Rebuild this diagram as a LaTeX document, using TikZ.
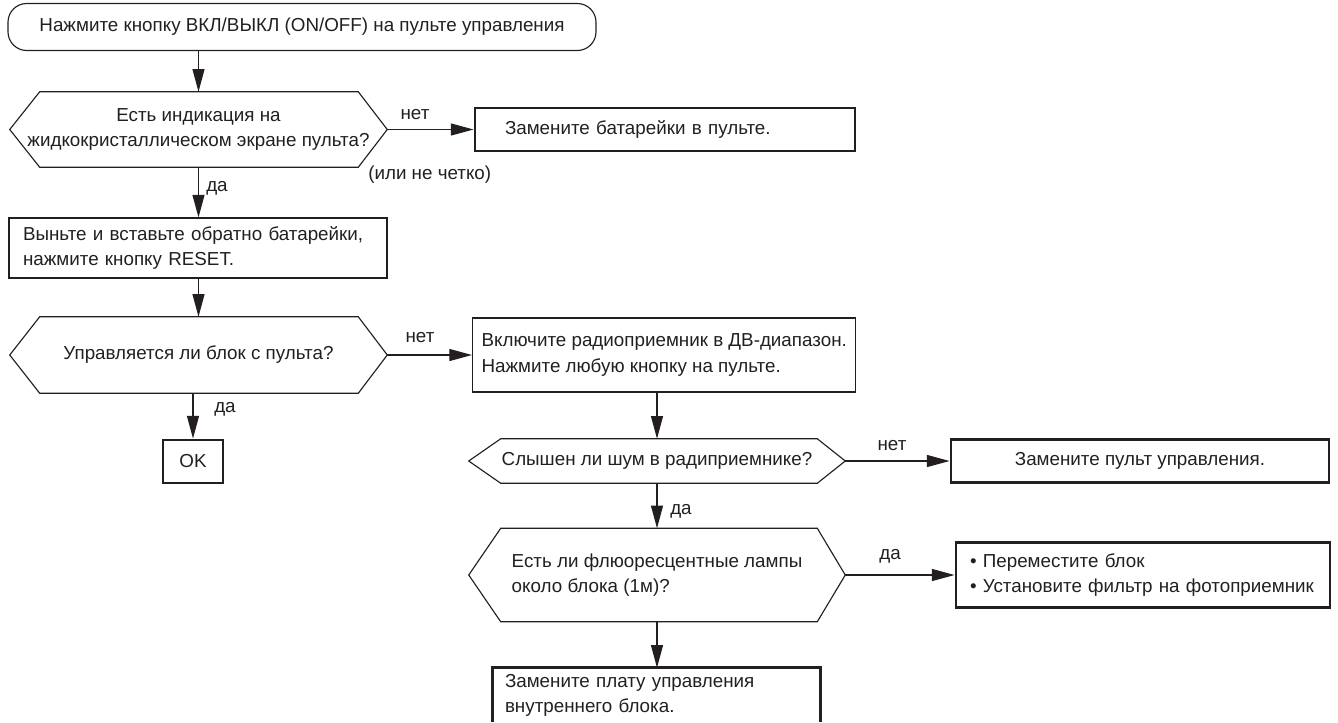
\documentclass[tikz,border=0pt]{standalone}
\usepackage{fontspec}
\setmainfont{Liberation Sans}
\usetikzlibrary{arrows.meta,calc}
\definecolor{ink}{HTML}{231F20}
\begin{document}
\begin{tikzpicture}[x=0.75pt,y=-0.75pt,
  every node/.style={font=\fontsize{14.1}{18.8}\selectfont, text=ink, inner sep=0pt},
  thinbox/.style={draw=ink, line width=0.85pt},
  thickbox/.style={draw=ink, line width=2.2pt},
  hexnode/.style={align=center},
  arr/.style={draw=ink, line width=0.85pt, -{Triangle[length=17pt,width=9pt]}},
  hexline/.style={draw=ink, line width=0.85pt, line join=miter},
  lbl/.style={font=\fontsize{14.1}{18.8}\selectfont}
]
\useasboundingbox (0,0) rectangle (1338,722);

% start terminal
\node[thinbox, rounded corners=14pt, minimum width=588*0.75pt, minimum height=47*0.75pt] (term) at (302,27)
  {Нажмите кнопку ВКЛ/ВЫКЛ (ON/OFF) на пульте управления};

% decision 1
\node[hexnode, minimum width=377*0.75pt, minimum height=75*0.75pt] (d1) at (198.5,129.5)
  {Есть индикация на\\жидкокристаллическом экране пульта?};
\draw[hexline] (d1.west) -- ($(d1.north west)+(30,0)$) -- ($(d1.north east)+(-29,0)$) -- (d1.east)
  -- ($(d1.south east)+(-29,0)$) -- ($(d1.south west)+(30,0)$) -- cycle;

% replace batteries
\node[thickbox, minimum height=43*0.75pt, text width=320*0.75pt, inner xsep=30*0.75pt, align=left] (b1) at (665,129.5)
  {Замените батарейки в пульте.};

% reinsert batteries
\node[thinbox, minimum height=60*0.75pt, text width=350*0.75pt, inner xsep=14*0.75pt, align=left] (b2) at (198,248)
  {Выньте и вставьте обратно батарейки,\\нажмите кнопку RESET.};

% decision 2
\node[hexnode, minimum width=377*0.75pt, minimum height=76*0.75pt] (d2) at (198.5,355)
  {Управляется ли блок с пульта?};
\draw[hexline] (d2.west) -- ($(d2.north west)+(30,0)$) -- ($(d2.north east)+(-29,0)$) -- (d2.east)
  -- ($(d2.south east)+(-29,0)$) -- ($(d2.south west)+(30,0)$) -- cycle;

% radio
\node[thinbox, anchor=west, minimum height=74*0.75pt, inner xsep=9*0.75pt, align=left] (b3) at (472,355)
  {Включите радиоприемник в ДВ-диапазон.\\Нажмите любую кнопку на пульте.};

% OK
\node[thickbox, minimum width=60*0.75pt, minimum height=43*0.75pt] (ok) at (193,461.5) {OK};

% decision 3
\node[hexnode, minimum width=376*0.75pt, minimum height=44*0.75pt] (d3) at (657,461)
  {Слышен ли шум в радиприемнике?};
\draw[hexline] (d3.west) -- ($(d3.north west)+(32,0)$) -- ($(d3.north east)+(-28,0)$) -- (d3.east)
  -- ($(d3.south east)+(-28,0)$) -- ($(d3.south west)+(32,0)$) -- cycle;

% replace remote
\node[thickbox, minimum width=378*0.75pt, minimum height=43*0.75pt] (b4) at (1140,461)
  {Замените пульт управления.};

% decision 4
\node[align=left, minimum width=376*0.75pt, minimum height=93*0.75pt] (d4) at (657,575)
  {Есть ли флюоресцентные лампы\\около блока (1м)?};
\draw[hexline] (d4.west) -- ($(d4.north west)+(32,0)$) -- ($(d4.north east)+(-28,0)$) -- (d4.east)
  -- ($(d4.south east)+(-28,0)$) -- ($(d4.south west)+(32,0)$) -- cycle;

% bullets
\node[thickbox, minimum height=65*0.75pt, text width=346*0.75pt, inner xsep=14*0.75pt, align=left] (b5) at (1143,575)
  {• Переместите блок\\• Установите фильтр на фотоприемник};

% bottom box (open at the lower edge)
\node[minimum height=54*0.75pt, text width=303*0.75pt, inner xsep=12*0.75pt, align=left] (b6) at (656.5,695)
  {Замените плату управления\\внутреннего блока.};
\draw[draw=ink, line width=2.2pt] (b6.south west) -- (b6.north west) -- (b6.north east) -- (b6.south east);

% connectors
\draw[arr] (term.south -| d1.north) -- (d1.north);
\draw[arr] (d1.east) -- (b1.west);
\draw[arr] (d1.south) -- (d1.south |- b2.north);
\draw[arr] (b2.south -| d2.north) -- (d2.north);
\draw[arr] (d2.east) -- (b3.west);
\draw[arr] (d2.south -| ok.north) -- (ok.north);
\draw[arr] (b3.south -| d3.north) -- (d3.north);
\draw[arr] (d3.east) -- (b4.west);
\draw[arr] (d3.south) -- (d3.south |- d4.north);
\draw[arr] (d4.east) -- (b5.west);
\draw[arr] (d4.south) -- (d4.south |- b6.north);

% labels
\node[lbl] (l1) at (415,115) {нет};
\node[lbl, anchor=west] (l2) at (368,175) {(или не четко)};
\node[lbl, anchor=west] (l3) at (206,188) {да};
\node[lbl] (l4) at (420,338) {нет};
\node[lbl, anchor=west] (l5) at (214,409) {да};
\node[lbl] (l6) at (892,446) {нет};
\node[lbl, anchor=west] (l7) at (670,511) {да};
\node[lbl] (l8) at (890,556) {да};
\end{tikzpicture}
\end{document}
